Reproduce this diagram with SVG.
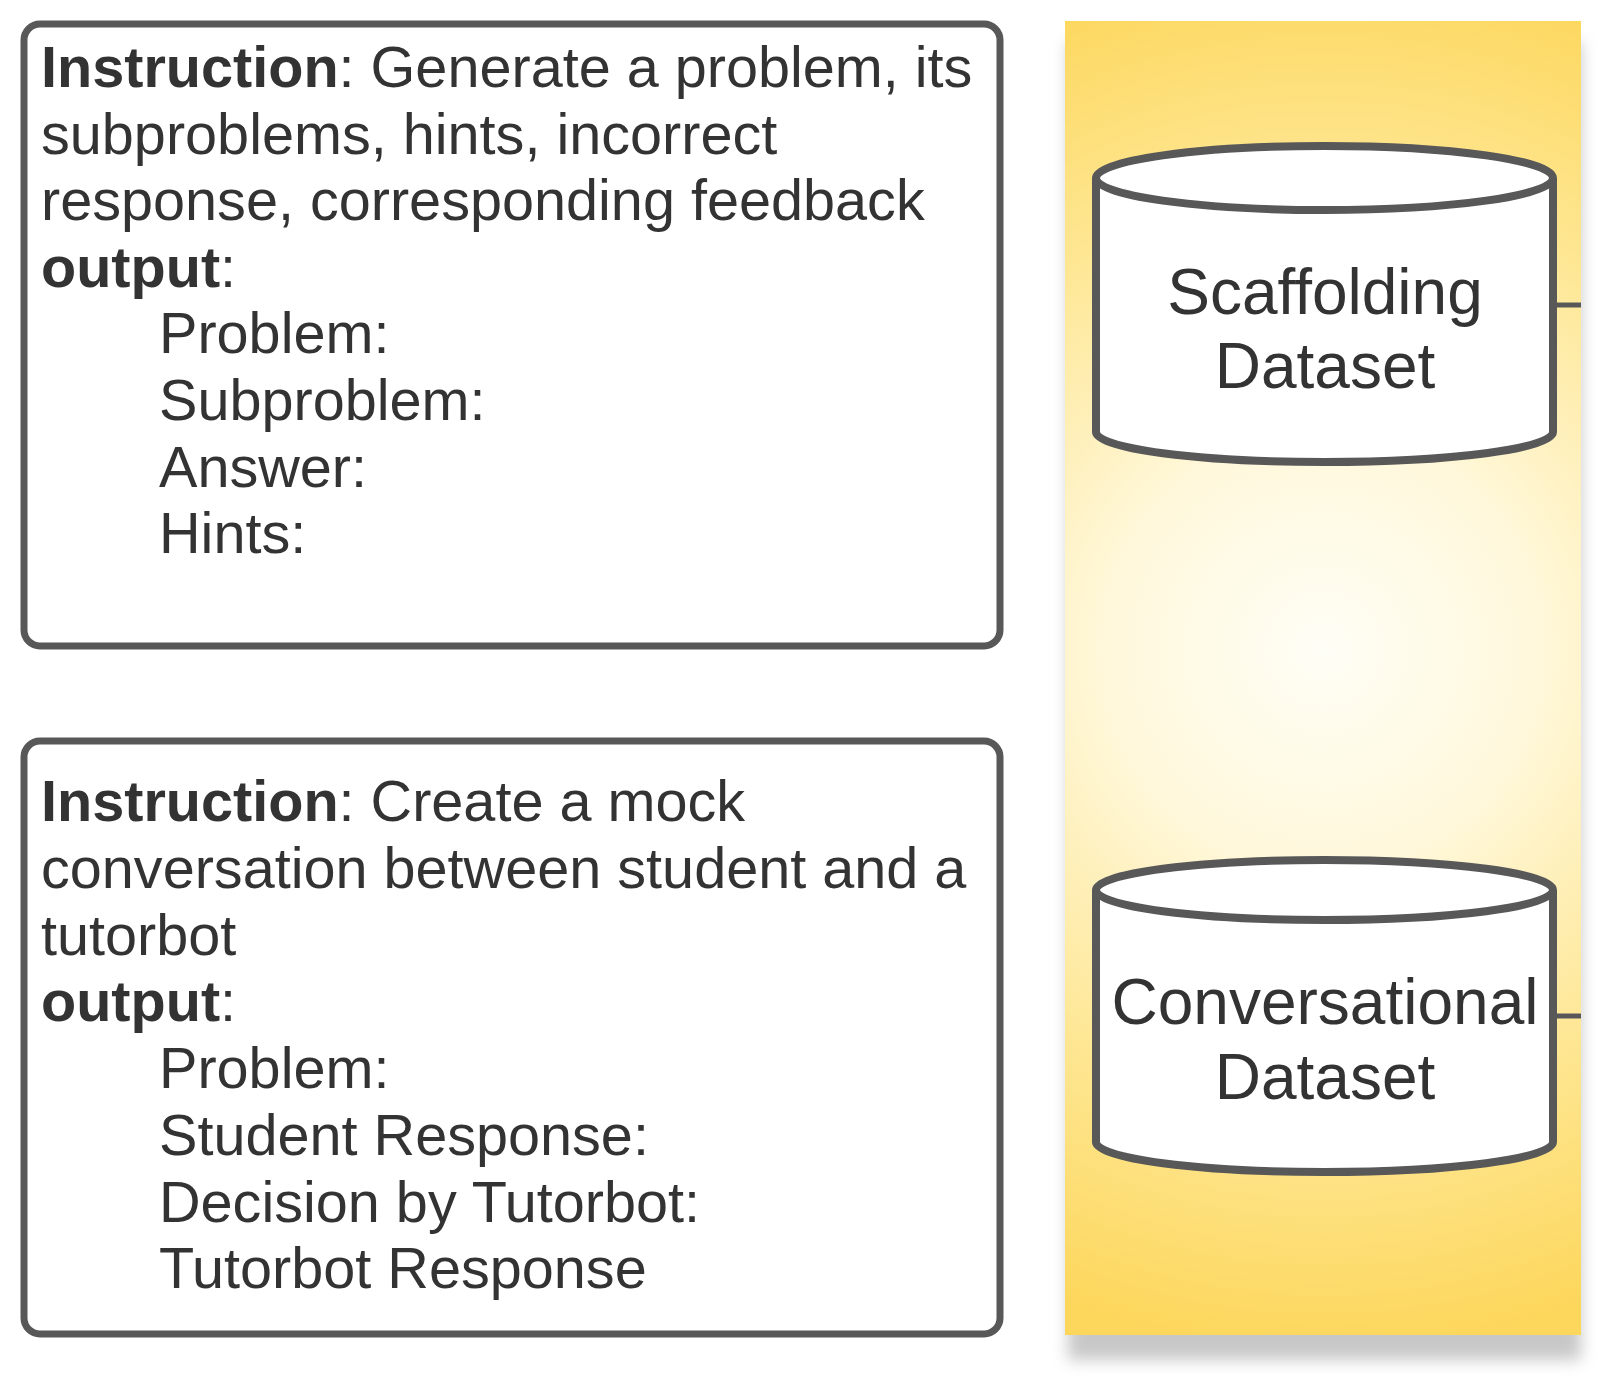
<svg xmlns="http://www.w3.org/2000/svg" width="1613" height="1385" viewBox="0 0 1613 1385">
<defs>
<radialGradient id="panelGrad" gradientUnits="userSpaceOnUse" cx="1323" cy="650" r="700">
<stop offset="0" stop-color="#FFFEF6"/>
<stop offset="0.3" stop-color="#FFF8DC"/>
<stop offset="0.65" stop-color="#FEE795"/>
<stop offset="1" stop-color="#FDD75C"/>
</radialGradient>
<filter id="shadow" x="-20%" y="-20%" width="140%" height="140%">
<feGaussianBlur stdDeviation="8"/>
</filter>
<style>
.box{fill:#FFFFFF;stroke:#585858;stroke-width:7}
.cyl{fill:#FFFFFF;stroke:#585858;stroke-width:8;stroke-linejoin:round}
.t{font-family:"Liberation Sans",Arial,sans-serif;font-size:57.6px;fill:#333333}
.b{font-weight:bold}
.c{font-family:"Liberation Sans",Arial,sans-serif;font-size:64px;fill:#333333;text-anchor:middle}
.conn{stroke:#585858;stroke-width:5;fill:none}
</style>
</defs>
<rect x="0" y="0" width="1613" height="1385" fill="#FFFFFF"/>
<g id="panel">
<rect x="1068" y="42" width="513" height="1318" fill="#9a9a9a" opacity="0.55" filter="url(#shadow)"/>
<rect x="1065" y="21" width="516" height="1314" fill="url(#panelGrad)"/>
</g>
<g id="box1">
<rect class="box" x="24" y="24" width="976" height="622" rx="16"/>
<text class="t" x="41" y="87"><tspan class="b">Instruction</tspan>: Generate a problem, its</text>
<text class="t" x="41" y="154">subproblems, hints, incorrect</text>
<text class="t" x="41" y="220">response, corresponding feedback</text>
<text class="t" x="41" y="287"><tspan class="b">output</tspan>:</text>
<text class="t" x="159" y="353">Problem:</text>
<text class="t" x="159" y="420">Subproblem:</text>
<text class="t" x="159" y="487">Answer:</text>
<text class="t" x="159" y="553">Hints:</text>
</g>
<g id="box2">
<rect class="box" x="24" y="741" width="976" height="593" rx="16"/>
<text class="t" x="41" y="821"><tspan class="b">Instruction</tspan>: Create a mock</text>
<text class="t" x="41" y="888">conversation between student and a</text>
<text class="t" x="41" y="955">tutorbot</text>
<text class="t" x="41" y="1021"><tspan class="b">output</tspan>:</text>
<text class="t" x="159" y="1088">Problem:</text>
<text class="t" x="159" y="1155">Student Response:</text>
<text class="t" x="159" y="1222">Decision by Tutorbot:</text>
<text class="t" x="159" y="1288">Tutorbot Response</text>
</g>
<g id="connectors">
<line class="conn" x1="1553" y1="305" x2="1581" y2="305"/>
<line class="conn" x1="1553" y1="1016" x2="1581" y2="1016"/>
</g>
<g id="scaffolding">
<path class="cyl" d="M1096 178 L1096 432 A228.5 30 0 0 0 1553 432 L1553 178 A228.5 32 0 0 0 1096 178 Z"/>
<path class="cyl" fill="none" d="M1096 178 A228.5 32 0 0 0 1553 178"/>
<text class="c" x="1325" y="314">Scaffolding</text>
<text class="c" x="1325" y="388">Dataset</text>
</g>
<g id="conversational">
<path class="cyl" d="M1096 890 L1096 1142 A228.5 30 0 0 0 1553 1142 L1553 890 A228.5 30 0 0 0 1096 890 Z"/>
<path class="cyl" fill="none" d="M1096 890 A228.5 30 0 0 0 1553 890"/>
<text class="c" x="1325" y="1024">Conversational</text>
<text class="c" x="1325" y="1099">Dataset</text>
</g>
</svg>
